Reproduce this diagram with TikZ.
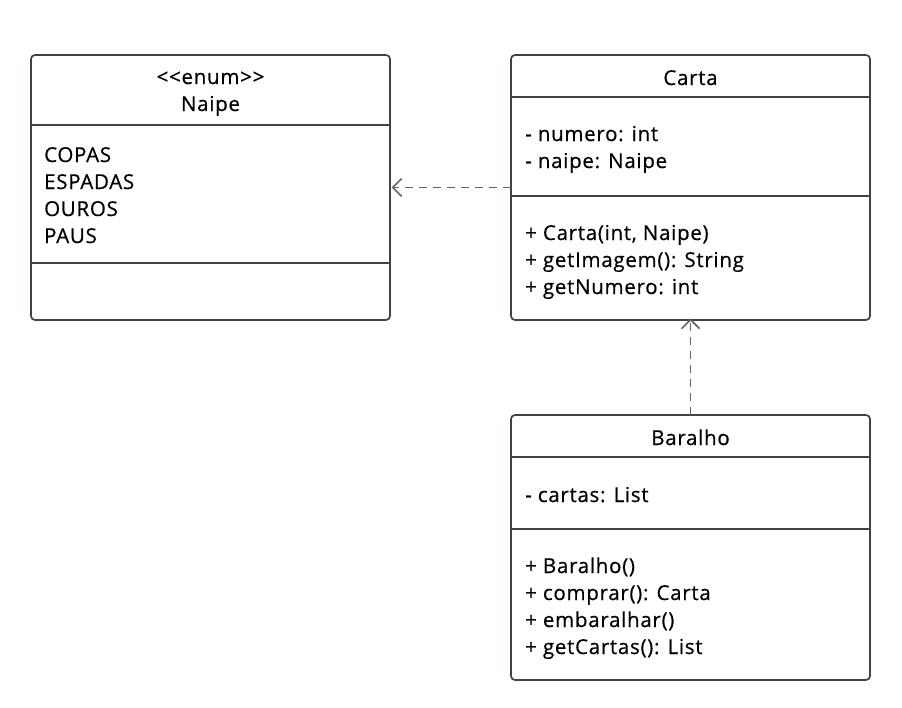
\documentclass[tikz,border=0pt]{standalone}
\usepackage{fontspec}
\setmainfont{Open Sans}[LetterSpace=3.5,FakeBold=0.5]
\usetikzlibrary{arrows.meta}
\definecolor{boxline}{HTML}{3D434A}
\definecolor{txt}{HTML}{000000}
\definecolor{arr}{HTML}{666666}
\tikzset{
  umlbox/.style={draw=boxline, line width=1.7pt, rounded corners=4pt, fill=white, minimum width=359pt, inner sep=0pt, outer sep=0pt},
  divider/.style={draw=boxline, line width=1.7pt},
  member/.style={anchor=base west, inner sep=0pt, text=txt, font=\fontsize{20.5}{27}\selectfont},
  title/.style={anchor=base, inner sep=0pt, text=txt, font=\fontsize{20.5}{27}\selectfont},
  dep/.style={draw=arr, line width=1.7pt, dash pattern=on 8pt off 6pt, -{Straight Barb[length=9pt,width=18pt,line width=1.7pt]}}
}
\begin{document}
\begin{tikzpicture}[x=1pt,y=-1pt]
\useasboundingbox (0,0) rectangle (902,707);
% boxes
\node[umlbox, minimum height=265pt] (naipe) at (210.5,187.5) {};
\node[umlbox, minimum height=265pt] (carta) at (690.5,187.5) {};
\node[umlbox, minimum height=265pt] (baralho) at (690.5,547.5) {};
% dividers
\draw[divider] (31,125) -- (390,125);
\draw[divider] (31,263) -- (390,263);
\draw[divider] (511,97) -- (870,97);
\draw[divider] (511,196) -- (870,196);
\draw[divider] (511,457) -- (870,457);
\draw[divider] (511,529) -- (870,529);
% Naipe text
\node[title] (naipeS) at (210.5,84) {{<}{<}enum{>}{>}};
\node[title] (naipeT) at (210.5,111) {Naipe};
\node[member] (n1) at (44,162) {COPAS};
\node[member] (n2) at (44,189) {ESPADAS};
\node[member] (n3) at (44,216) {OUROS};
\node[member] (n4) at (44,243) {PAUS};
% Carta text
\node[title] (cartaT) at (690.5,85) {Carta};
\node[member] (c1) at (525,141) {- numero: int};
\node[member] (c2) at (525,168) {- naipe: Naipe};
\node[member] (c3) at (525,240) {+ Carta(int, Naipe)};
\node[member] (c4) at (525,267) {+ getImagem(): String};
\node[member] (c5) at (525,294) {+ getNumero: int};
% Baralho text
\node[title] (baralhoT) at (690.5,445) {Baralho};
\node[member] (b1) at (525,502) {- cartas: List};
\node[member] (b2) at (525,573) {+ Baralho()};
\node[member] (b3) at (525,600) {+ comprar(): Carta};
\node[member] (b4) at (525,627) {+ embaralhar()};
\node[member] (b5) at (525,654) {+ getCartas(): List};
% connectors
\draw[dep] (carta.west) -- ([xshift=1.5pt]naipe.east);
\draw[dep] (baralho.north) -- ([yshift=1.5pt]carta.south);
\end{tikzpicture}
\end{document}
